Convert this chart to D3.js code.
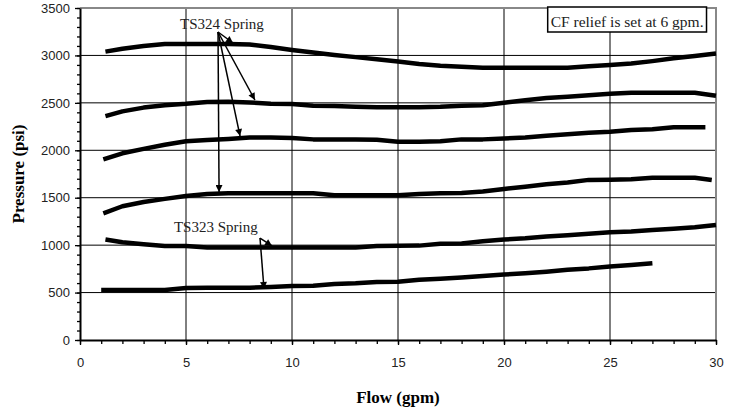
<!DOCTYPE html>
<html>
<head>
<meta charset="utf-8">
<script src="https://cdn.jsdelivr.net/npm/d3@7"></script>
<style>
  body { margin: 0; background: #fff; }
</style>
</head>
<body>
<div id="chart"></div>
<script>
// flow (gpm) and pressure (psi) readings for each curve, top to bottom
const flow1 = [1.2, 2, 3, 4, 5, 6, 7, 8, 9, 10, 11, 12, 13, 14, 15, 16, 17, 18, 19, 20, 21, 22, 23, 24, 25, 26, 27, 28, 29, 30];
const psi1  = [3040, 3070, 3100, 3120, 3120, 3120, 3120, 3115, 3088, 3058, 3030, 3005, 2982, 2960, 2935, 2910, 2890, 2880, 2870, 2870, 2870, 2870, 2870, 2885, 2900, 2915, 2940, 2970, 2995, 3020];

const flow2 = [1.2, 2, 3, 4, 5, 6, 7, 8, 9, 10, 11, 12, 13, 14, 15, 16, 17, 18, 19, 20, 21, 22, 23, 24, 25, 26, 27, 28, 29, 30];
const psi2  = [2360, 2410, 2450, 2475, 2490, 2510, 2512, 2505, 2490, 2488, 2470, 2467, 2460, 2453, 2453, 2453, 2458, 2470, 2475, 2500, 2528, 2550, 2565, 2580, 2595, 2607, 2607, 2607, 2607, 2576];

const flow3 = [1.1, 2, 3, 4, 5, 6, 7, 8, 9, 10, 11, 12, 13, 14, 15, 16, 17, 18, 19, 20, 21, 22, 23, 24, 25, 26, 27, 28, 29, 29.5];
const psi3  = [1905, 1968, 2015, 2058, 2095, 2108, 2120, 2136, 2136, 2130, 2115, 2115, 2115, 2112, 2090, 2090, 2095, 2115, 2115, 2125, 2136, 2152, 2170, 2185, 2196, 2215, 2222, 2242, 2242, 2242];

const flow4 = [1.1, 2, 3, 4, 5, 6, 7, 8, 9, 10, 11, 12, 13, 14, 15, 16, 17, 18, 19, 20, 21, 22, 23, 24, 25, 26, 27, 28, 29, 29.8];
const psi4  = [1336, 1410, 1455, 1488, 1518, 1539, 1546, 1546, 1546, 1546, 1546, 1525, 1525, 1525, 1525, 1540, 1546, 1550, 1565, 1592, 1616, 1641, 1660, 1688, 1690, 1695, 1711, 1711, 1711, 1687];

const flow5 = [1.2, 2, 3, 4, 5, 6, 7, 8, 9, 10, 11, 12, 13, 14, 15, 16, 17, 18, 19, 20, 21, 22, 23, 24, 25, 26, 27, 28, 29, 30];
const psi5  = [1060, 1030, 1010, 991, 991, 975, 975, 975, 975, 975, 975, 975, 975, 991, 993, 995, 1015, 1018, 1040, 1060, 1072, 1090, 1105, 1120, 1135, 1145, 1160, 1172, 1188, 1212];

const flow6 = [1, 2, 3, 4, 5, 6, 7, 8, 9, 10, 11, 12, 13, 14, 15, 16, 17, 18, 19, 20, 21, 22, 23, 24, 25, 26, 27];
const psi6  = [527, 527, 527, 527, 548, 550, 550, 551, 560, 569, 572, 590, 598, 612, 615, 635, 645, 658, 675, 690, 703, 720, 740, 755, 775, 790, 808];

const xTicks = [0, 5, 10, 15, 20, 25, 30];
const yTicks = [0, 500, 1000, 1500, 2000, 2500, 3000, 3500];

// annotations, in data units
const labels = [
    { text: "TS324 Spring", x: 4.72, y: 3279 },
    { text: "TS323 Spring", x: 4.43, y: 1139 }
];
const arrows = [
    { from: [6.51, 3247], to: [7.22, 3131] },
    { from: [6.51, 3247], to: [8.25, 2530] },
    { from: [6.51, 3247], to: [7.55, 2150] },
    { from: [6.51, 3247], to: [6.56, 1560] },
    { from: [8.49, 1075], to: [9.06, 991] },
    { from: [8.49, 1075], to: [8.68, 538] }
];
const noteText = "CF relief is set at 6 gpm.";

const margin = { top: 8, right: 23, bottom: 72, left: 80 };
const width = 739 - margin.left - margin.right;
const height = 412 - margin.top - margin.bottom;

const series = [[flow1, psi1], [flow2, psi2], [flow3, psi3], [flow4, psi4], [flow5, psi5], [flow6, psi6]]
    .map(([f, p]) => f.map((d, i) => ({ x: d, y: p[i] })));

const x = d3.scaleLinear().domain([0, 30]).range([0, width]);
const y = d3.scaleLinear().domain([0, 3500]).range([height, 0]);

const svg = d3.select('#chart').append('svg')
        .attr('width', 739)
        .attr('height', 412)
        .style('display', 'block')
    .append('g')
        .attr('transform', 'translate(' + margin.left + ',' + margin.top + ')');

// grid
svg.append('g').selectAll('line')
    .data(yTicks.filter(d => d > 0 && d < 3500))
    .enter().append('line')
    .attr('x1', 0).attr('x2', width)
    .attr('y1', d => y(d)).attr('y2', d => y(d))
    .attr('stroke', '#000').attr('stroke-width', 1);

svg.append('g').selectAll('line')
    .data(xTicks.filter(d => d > 0 && d < 30))
    .enter().append('line')
    .attr('y1', 0).attr('y2', height)
    .attr('x1', d => x(d)).attr('x2', d => x(d))
    .attr('stroke', '#000').attr('stroke-width', 1);

// grey frame top and right
svg.append('path')
    .attr('d', 'M0,' + y(3500) + 'H' + x(30) + 'V' + y(0))
    .attr('fill', 'none')
    .attr('stroke', '#888')
    .attr('stroke-width', 2);

// minor ticks
const xMinor = d3.axisBottom(x).tickValues(d3.range(0, 31, 1)).tickSize(4).tickFormat('');
const yMinor = d3.axisLeft(y).tickValues(d3.range(0, 3501, 100)).tickSize(3).tickFormat('');

svg.append('g').attr('transform', 'translate(0,' + height + ')').call(xMinor)
    .call(g => g.select('.domain').remove())
    .selectAll('line').attr('stroke', '#000').attr('stroke-width', 1.3);
svg.append('g').call(yMinor)
    .call(g => g.select('.domain').remove())
    .selectAll('line').attr('stroke', '#000').attr('stroke-width', 1.3);

// major axes
const xAxis = d3.axisBottom(x).tickValues(xTicks).tickFormat(d3.format('d'))
    .tickSizeInner(5).tickSizeOuter(0).tickPadding(13);
const yAxis = d3.axisLeft(y).tickValues(yTicks).tickFormat(d3.format('d'))
    .tickSizeInner(5).tickSizeOuter(0).tickPadding(5);

const gx = svg.append('g').attr('transform', 'translate(0,' + height + ')').call(xAxis);
const gy = svg.append('g').call(yAxis);

[gx, gy].forEach(g => {
    g.select('.domain').attr('stroke', '#000').attr('stroke-width', 2);
    g.selectAll('.tick line').attr('stroke', '#000').attr('stroke-width', 1.3);
    g.selectAll('.tick text')
        .attr('fill', '#222')
        .style('font-family', '"Liberation Sans", Arial, sans-serif')
        .style('font-size', '13px');
});

// curves
const line = d3.line()
    .x(d => x(d.x))
    .y(d => y(d.y));

svg.append('g').selectAll('path')
    .data(series)
    .enter().append('path')
    .attr('d', line)
    .attr('fill', 'none')
    .attr('stroke', '#000')
    .attr('stroke-width', 4.5)
    .attr('stroke-linejoin', 'round');

// arrows and labels
svg.append('defs').append('marker')
    .attr('id', 'head')
    .attr('viewBox', '0 0 10 10')
    .attr('refX', 10).attr('refY', 5)
    .attr('markerUnits', 'userSpaceOnUse')
    .attr('markerWidth', 9).attr('markerHeight', 7)
    .attr('orient', 'auto')
  .append('path')
    .attr('d', 'M0,0L10,5L0,10z')
    .attr('fill', '#000');

svg.append('g').selectAll('line')
    .data(arrows)
    .enter().append('line')
    .attr('x1', d => x(d.from[0])).attr('y1', d => y(d.from[1]))
    .attr('x2', d => x(d.to[0])).attr('y2', d => y(d.to[1]))
    .attr('stroke', '#000')
    .attr('stroke-width', 1.5)
    .attr('marker-end', 'url(#head)');

svg.append('g').selectAll('text')
    .data(labels)
    .enter().append('text')
    .attr('x', d => x(d.x))
    .attr('y', d => y(d.y))
    .attr('fill', '#222')
    .style('font-family', '"Liberation Serif", "Times New Roman", serif')
    .style('font-size', '15px')
    .text(d => d.text);

// note box in top right
const note = svg.append('g');
const noteLabel = note.append('text')
    .attr('x', x(29.6) - 4)
    .attr('y', 19)
    .attr('text-anchor', 'end')
    .attr('fill', '#222')
    .style('font-family', '"Liberation Serif", "Times New Roman", serif')
    .style('font-size', '15.5px')
    .text(noteText);
const bb = noteLabel.node().getBBox();
note.insert('rect', 'text')
    .attr('x', bb.x - 3)
    .attr('y', -1)
    .attr('width', bb.width + 6)
    .attr('height', 25)
    .attr('fill', '#fff')
    .attr('stroke', '#000')
    .attr('stroke-width', 1.5);

// axis titles
svg.append('text')
    .attr('x', width / 2)
    .attr('y', height + 63)
    .attr('text-anchor', 'middle')
    .style('font-family', '"Liberation Serif", "Times New Roman", serif')
    .style('font-weight', 'bold')
    .style('font-size', '17px')
    .text('Flow (gpm)');

svg.append('text')
    .attr('transform', 'translate(' + (-56) + ',' + (height / 2) + ') rotate(-90)')
    .attr('text-anchor', 'middle')
    .style('font-family', '"Liberation Serif", "Times New Roman", serif')
    .style('font-weight', 'bold')
    .style('font-size', '17px')
    .text('Pressure (psi)');
</script>
</body>
</html>
